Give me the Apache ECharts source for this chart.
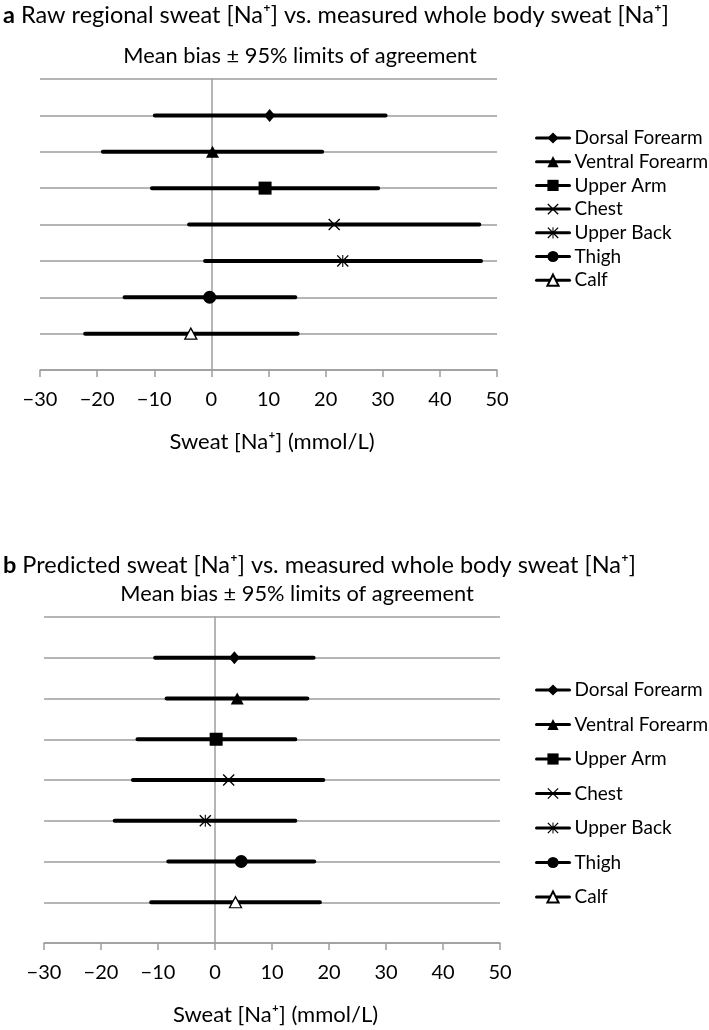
<!DOCTYPE html>
<html>
<head>
<meta charset="utf-8">
<script src="https://cdn.jsdelivr.net/npm/echarts@6/dist/echarts.min.js"></script>
<style>
html,body{margin:0;padding:0;background:#fff;}
#chart{width:709px;height:1030px;}
</style>
</head>
<body>
<div id="chart"></div>
<script>
// ---- data ----
const categories = ['Dorsal Forearm','Ventral Forearm','Upper Arm','Chest','Upper Back','Thigh','Calf'];
const rowPositions = [7, 6, 5, 4, 3, 2, 1];
// panel a: raw regional vs whole body
const rawMean  = [10.2, 0.2, 9.4, 21.5, 23.0, -0.3, -3.6];
const rawLower = [-9.9, -19.0, -10.4, -3.9, -1.1, -15.2, -22.1];
const rawUpper = [30.5, 19.4, 29.2, 46.9, 47.2, 14.7, 15.1];
// panel b: predicted vs whole body
const predMean  = [3.4, 3.9, 0.2, 2.4, -1.7, 4.6, 3.6];
const predLower = [-10.5, -8.5, -13.6, -14.4, -17.6, -8.2, -11.2];
const predUpper = [17.3, 16.2, 14.1, 19.0, 14.1, 17.4, 18.4];
const xMin = -30, xMax = 50, xInterval = 10;
const titleA = 'Raw regional sweat [Na⁺] vs. measured whole body sweat [Na⁺]';
const titleB = 'Predicted sweat [Na⁺] vs. measured whole body sweat [Na⁺]';
const subTitle = 'Mean bias ± 95% limits of agreement';
const axisName = 'Sweat [Na⁺] (mmol/L)';

// ---- styles ----
const FONT = 'Lato';
const GRAY = '#9d9d9d';
const xPath = 'path://M0,0.8 L0.8,0 L10,9.2 L9.2,10 Z M9.2,0 L10,0.8 L0.8,10 L0,9.2 Z';
const starPath = 'path://M0,0.8 L0.8,0 L10,9.2 L9.2,10 Z M9.2,0 L10,0.8 L0.8,10 L0,9.2 Z M4.55,0 L5.45,0 L5.45,10 L4.55,10 Z';
const markerStyles = [
  {symbol:'diamond', size:[11,13], fill:'#000'},
  {symbol:'triangle', size:[13,12], fill:'#000'},
  {symbol:'rect', size:13, fill:'#000'},
  {symbol:xPath, size:12, fill:'#000'},
  {symbol:starPath, size:12, fill:'#000'},
  {symbol:'circle', size:13, fill:'#000'},
  {symbol:'triangle', size:[12,11], fill:'#fff', border:'#000'}
];

const chart = echarts.init(document.getElementById('chart'), null, {renderer:'canvas'});

function makeSeries(gridIdx, mean, lower, upper) {
  return categories.map((name, i) => {
    const st = markerStyles[i];
    const y = rowPositions[i];
    return {
      type: 'line',
      name: name,
      xAxisIndex: gridIdx,
      yAxisIndex: gridIdx,
      symbol: st.symbol,
      symbolSize: st.size,
      showSymbol: true,
      symbolKeepAspect: false,
      animation: false,
      silent: true,
      z: 5,
      lineStyle: {color:'#000', width:4, cap:'round'},
      itemStyle: {color: st.fill, borderColor: st.border || st.fill, borderWidth: st.border ? 1.3 : 0},
      data: [
        {value:[lower[i], y], symbol:'none'},
        {value:[mean[i], y]},
        {value:[upper[i], y], symbol:'none'}
      ]
    };
  });
}

function xAxisDef(gridIdx) {
  return {
    type:'value', gridIndex:gridIdx, min:xMin, max:xMax, interval:xInterval,
    name: axisName, nameLocation:'middle', nameGap:61,
    nameTextStyle:{fontFamily:FONT, fontSize:22, color:'#000', padding:[0,0,0,7]},
    axisLine:{show:true, onZero:false, lineStyle:{color:GRAY, width:1.5}},
    axisTick:{show:true, length:7, inside:false, lineStyle:{color:GRAY, width:1.5}},
    axisLabel:{margin:20, fontFamily:FONT, fontSize:20, color:'#000',
      formatter: v => v < 0 ? '\u2212' + Math.abs(v) : String(v)},
    splitLine:{show:false}
  };
}
function yAxisDef(gridIdx) {
  return {
    type:'value', gridIndex:gridIdx, min:0, max:8, interval:1,
    axisLine:{show:true, onZero:true, lineStyle:{color:GRAY, width:1.5}},
    axisTick:{show:false}, axisLabel:{show:false},
    splitLine:{show:true, lineStyle:{color:GRAY, width:1.5}}
  };
}
function legendDef(top, gap) {
  return {
    orient:'vertical', left:535, top:top, padding:0,
    itemWidth:33, itemHeight:14, itemGap:gap,
    data: categories,
    selectedMode:false,
    lineStyle:{width:3},
    textStyle:{fontFamily:FONT, fontSize:19, color:'#000', lineHeight:19}
  };
}

const option = {
  animation:false,
  backgroundColor:'#fff',
  grid:[
    {left:40, right:212, top:79, bottom:660},
    {left:44, right:209, top:617, bottom:87}
  ],
  xAxis:[xAxisDef(0), xAxisDef(1)],
  yAxis:[yAxisDef(0), yAxisDef(1)],
  legend:[legendDef(128.5, 4.7), legendDef(680.5, 15.5)],
  series: makeSeries(0, rawMean, rawLower, rawUpper).concat(makeSeries(1, predMean, predLower, predUpper)),
  graphic:[
    {type:'text', x:3, y:15, style:{text:'{b|a} ' + titleA, fontFamily:FONT, fontSize:23.5, fill:'#000',
      textVerticalAlign:'middle', rich:{b:{fontWeight:'bold', fontFamily:FONT, fontSize:23.5}}}},
    {type:'text', x:300, y:56, style:{text:subTitle, fontFamily:FONT, fontSize:21.8, fill:'#000',
      textAlign:'center', textVerticalAlign:'middle'}},
    {type:'text', x:3, y:565, style:{text:'{b|b} ' + titleB, fontFamily:FONT, fontSize:23.5, fill:'#000',
      textVerticalAlign:'middle', rich:{b:{fontWeight:'bold', fontFamily:FONT, fontSize:23.5}}}},
    {type:'text', x:297, y:594, style:{text:subTitle, fontFamily:FONT, fontSize:21.8, fill:'#000',
      textAlign:'center', textVerticalAlign:'middle'}}
  ]
};
chart.setOption(option);
</script>
</body>
</html>
